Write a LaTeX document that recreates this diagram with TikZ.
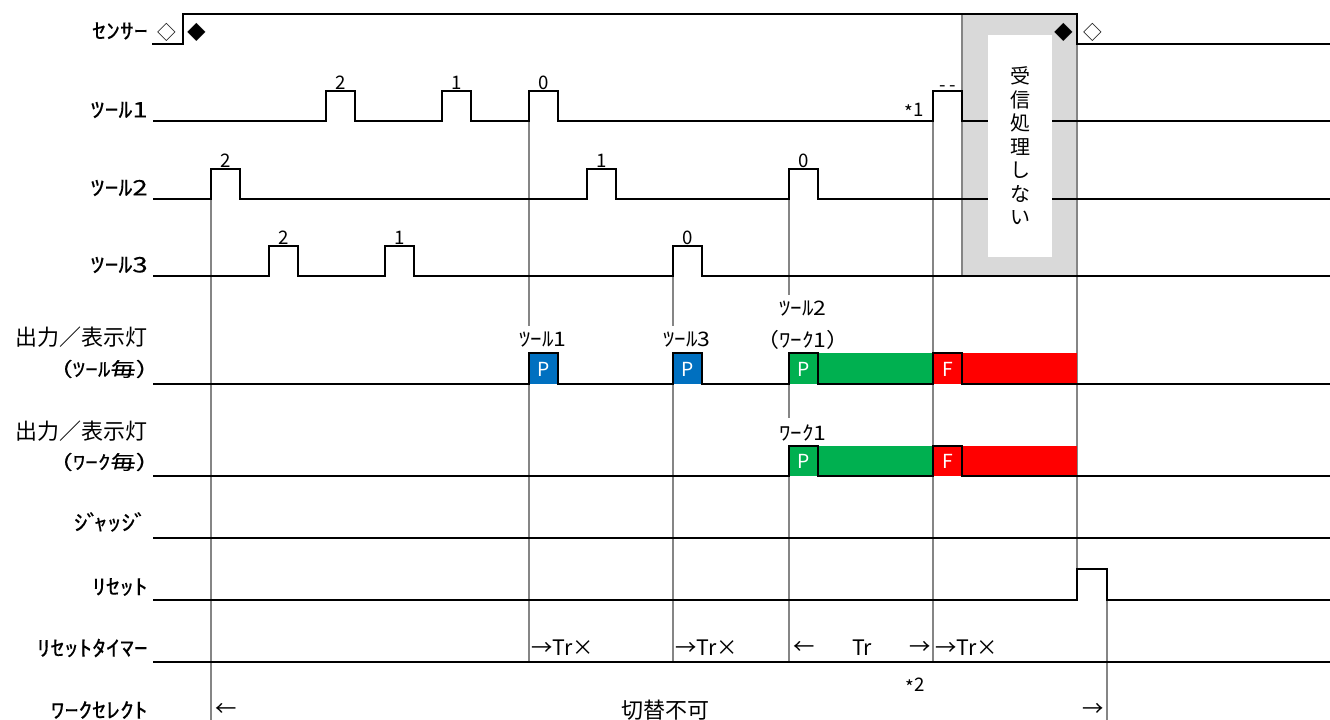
\documentclass[tikz,border=0pt]{standalone}
\usepackage{fontspec}
\setmainfont{Noto Sans CJK JP}
\newfontfamily\hw[FakeStretch=1.3,FakeBold=0.2]{Noto Sans CJK JP}
\newfontfamily\hwtag[FakeStretch=1.15]{Noto Sans CJK JP}
\definecolor{pblue}{HTML}{0070C0}
\definecolor{pgreen}{HTML}{00B050}
\definecolor{fred}{HTML}{FF0000}
\definecolor{boxgray}{HTML}{D9D9D9}
\definecolor{guidegray}{HTML}{858585}
\tikzset{
  sig/.style={line width=2pt,line join=miter},
  guide/.style={line width=2pt,guidegray},
  lbl/.style={anchor=east,inner sep=0pt,font=\hw\fontsize{16}{16}\selectfont},
  plbl/.style={anchor=east,inner sep=0pt,font=\hw\fontsize{14.5}{14.5}\selectfont},
  biglbl/.style={anchor=east,inner sep=0pt,font=\fontsize{16.5}{16.5}\selectfont},
  num/.style={inner sep=1pt,font=\fontsize{14}{14}\selectfont},
  tag/.style={inner xsep=2pt,inner ysep=5pt,fill=white,font=\hwtag\fontsize{15}{15}\selectfont},
  lamp/.style={inner sep=0pt,text=white,font=\fontsize{14.5}{14.5}\selectfont},
  tm/.style={inner sep=0pt,font=\fontsize{16}{16}\selectfont},
  sym/.style={inner sep=0pt,font=\fontsize{14}{14}\selectfont}
}
\newcommand{\lowast}{\raisebox{-0.3ex}{*}}
\begin{document}
\begin{tikzpicture}[x=0.75pt,y=-0.75pt]
\useasboundingbox (0,0) rectangle (1330,720);
\fill[boxgray] (962,14) rectangle (1077,276);
\draw[guide] (211,199) -- (211,720);
\draw[guide] (529,121) -- (529,662);
\draw[guide] (673,276) -- (673,662);
\draw[guide] (789,199) -- (789,296);
\draw[guide] (789,353) -- (789,662);
\draw[guide] (933,121) -- (933,662);
\draw[guide] (962,14) -- (962,276);
\draw[guide] (1077,14) -- (1077,569);
\draw[guide] (1107,600) -- (1107,720);
\node[tag] (gt1) at (543,340) {ﾂｰﾙ1};
\node[tag] (gt3) at (687,340) {ﾂｰﾙ3};
\node[tag] (gt2) at (803,309) {ﾂｰﾙ2};
\node[tag] (gw1) at (803,340) {（ﾜｰｸ1）};
\node[tag] (gw2) at (803,433) {ﾜｰｸ1};
\fill[pblue] (529,353) rectangle (558,384);
\fill[pblue] (673,353) rectangle (702,384);
\fill[pgreen] (789,353) rectangle (933,384);
\fill[fred] (933,353) rectangle (1077,384);
\fill[pgreen] (789,446) rectangle (933,476);
\fill[fred] (933,446) rectangle (1077,476);
\draw[sig] (152,44) -- (183,44) -- (183,14) -- (1077,14) -- (1077,44) -- (1330,44);
\draw[sig] (153,121) foreach \p in {326,442,529,933} { -- (\p,121) -- ++(0,-30) -- ++(29,0) -- ++(0,30) } -- (1330,121);
\draw[sig] (153,199) foreach \p in {211,587,789} { -- (\p,199) -- ++(0,-30) -- ++(29,0) -- ++(0,30) } -- (1330,199);
\draw[sig] (153,276) foreach \p in {269,385,673} { -- (\p,276) -- ++(0,-30) -- ++(29,0) -- ++(0,30) } -- (1330,276);
\draw[sig] (153,384) foreach \p in {529,673,789,933} { -- (\p,384) -- ++(0,-31) -- ++(29,0) -- ++(0,31) } -- (1330,384);
\draw[sig] (153,476) foreach \p in {789,933} { -- (\p,476) -- ++(0,-30) -- ++(29,0) -- ++(0,30) } -- (1330,476);
\draw[sig] (153,538) -- (1330,538);
\draw[sig] (153,600) -- (1077,600) -- (1077,569) -- (1107,569) -- (1107,600) -- (1330,600);
\draw[sig] (153,662) -- (1330,662);
\fill[white] (988,35) rectangle (1052,257);
\node[align=center,inner sep=0pt,font=\fontsize{15}{17.6}\selectfont] (norx) at (1020,146) {受\\信\\処\\理\\し\\な\\い};
\node[sym] (s1) at (167,32) {◇};
\node[sym] (s2) at (197,32) {◆};
\node[sym] (s3) at (1064,32) {◆};
\node[sym] (s4) at (1093,32) {◇};
\node[lbl] (lsen) at (148,31) {ｾﾝｻｰ};
\node[lbl] (lt1) at (148,110) {ﾂｰﾙ1};
\node[lbl] (lt2) at (148,188) {ﾂｰﾙ2};
\node[lbl] (lt3) at (148,265) {ﾂｰﾙ3};
\node[biglbl] (lo1) at (148,337) {出力／表示灯};
\node[plbl] (lo1b) at (161,369) {（ﾂｰﾙ毎）};
\node[biglbl] (lo2) at (148,431) {出力／表示灯};
\node[plbl] (lo2b) at (161,462) {（ﾜｰｸ毎）};
\node[lbl] (ljdg) at (148,522) {ｼ\kern-1ptﾞ\kern-5ptｬｯｼ\kern-1ptﾞ};
\node[lbl] (lrst) at (148,587) {ﾘｾｯﾄ};
\node[lbl] (ltmr) at (148,648) {ﾘｾｯﾄﾀｲﾏｰ};
\node[lbl] (lsel) at (148,710) {ﾜｰｸｾﾚｸﾄ};
\node[num,above] (a2) at (340.5,91) {2};
\node[num,above] (a1) at (456.5,91) {1};
\node[num,above] (a0) at (543.5,91) {0};
\node[num,above] (ax) at (947.5,93) {-\,-};
\node[num] (n1) at (914,111) {\lowast1};
\node[num,above] (b2) at (225.5,169) {2};
\node[num,above] (b1) at (601.5,169) {1};
\node[num,above] (b0) at (803.5,169) {0};
\node[num,above] (c2) at (283.5,246) {2};
\node[num,above] (c1) at (399.5,246) {1};
\node[num,above] (c0) at (687.5,246) {0};
\node[lamp] (p1) at (543.5,369) {P};
\node[lamp] (p3) at (687.5,369) {P};
\node[lamp] (p2) at (803.5,369) {P};
\node[lamp] (f1) at (947.5,369) {F};
\node[lamp] (p4) at (803.5,461) {P};
\node[lamp] (f2) at (947.5,461) {F};
\node[tm,anchor=west] (tr1) at (531,648) {→Tr×};
\node[tm,anchor=west] (tr3) at (675,648) {→Tr×};
\node[tm,anchor=west] (tr2l) at (793,648) {←};
\node[tm] (tr2) at (862,648) {Tr};
\node[tm,anchor=east] (tr2r) at (931,648) {→};
\node[tm,anchor=west] (tr4) at (935,648) {→Tr×};
\node[num] (n2) at (915,686) {\lowast2};
\node[tm,anchor=west] (sell) at (215,710) {←};
\node[biglbl,anchor=center] (selc) at (665,710) {切替不可};
\node[tm,anchor=east] (selr) at (1104,710) {→};
\end{tikzpicture}
\end{document}
